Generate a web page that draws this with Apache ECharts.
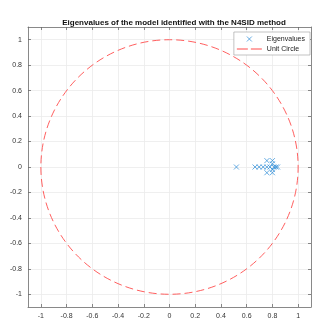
<!DOCTYPE html>
<html>
<head>
<meta charset="utf-8">
<script src="https://cdn.jsdelivr.net/npm/echarts@6/dist/echarts.min.js"></script>
<style>
  html, body { margin: 0; padding: 0; background: #fff; }
  #chart { width: 323px; height: 324px; }
</style>
</head>
<body>
<div id="chart"></div>
<script>
var eigReal = [0.52, 0.665, 0.697, 0.728, 0.757, 0.782, 0.812, 0.828, 0.840, 0.757, 0.757, 0.800, 0.800, 0.800, 0.800];
var eigImag = [0, 0, 0, 0, 0, 0, 0, 0, 0, 0.05, -0.045, 0.05, -0.045, 0.025, -0.02];
// unit circle: centre x, centre y, radius
var circleDef = [[0, 0, 1]];
var tickVals = [-1, -0.8, -0.6, -0.4, -0.2, 0, 0.2, 0.4, 0.6, 0.8, 1];
var seriesNames = ['Eigenvalues', 'Unit Circle'];

var font = 'Liberation Sans, Arial, sans-serif';
var blue = '#2b8bd6';
var red = '#ff4d4d';
var chart = echarts.init(document.getElementById('chart'));

function fmt(v) {
    return String(Math.round(v * 10) / 10);
}

function axisBase(pos, showLabel) {
    return {
        type: 'value',
        position: pos,
        min: -1.1,
        max: 1.1,
        axisLine: { show: true, onZero: false, lineStyle: { color: '#6b6b6b', width: 0.8 } },
        axisTick: { show: true, inside: true, length: 3, customValues: tickVals, lineStyle: { color: '#6b6b6b', width: 0.8 } },
        axisLabel: { show: showLabel, customValues: tickVals, formatter: fmt, fontSize: 7, color: '#333', fontFamily: font },
        splitLine: { show: showLabel, lineStyle: { color: '#ebebeb', width: 0.8 } }
    };
}

var points = eigReal.map(function (r, i) { return [r, eigImag[i]]; });

var xBottom = axisBase('bottom', true);
xBottom.axisLabel.margin = 6;
var xTop = axisBase('top', false);
var yLeft = axisBase('left', true);
yLeft.axisLabel.margin = 6;
yLeft.name = 'Imaginary';
yLeft.nameLocation = 'middle';
yLeft.nameGap = 22;
yLeft.nameTextStyle = { fontSize: 7.5, color: '#333', fontFamily: font };
var yRight = axisBase('right', false);

var option = {
    backgroundColor: '#fff',
    animation: false,
    title: {
        text: 'Eigenvalues of the model identified with the N4SID method',
        left: 169,
        textAlign: 'center',
        top: 14,
        textStyle: { fontSize: 8, fontWeight: 'bold', color: '#111', fontFamily: font }
    },
    legend: {
        orient: 'vertical',
        right: 13,
        top: 32,
        padding: [2, 5, 2, 3],
        itemWidth: 25,
        itemHeight: 5,
        itemGap: 1,
        borderColor: '#9a9a9a',
        borderWidth: 0.6,
        backgroundColor: '#fff',
        textStyle: { fontSize: 7, color: '#222', fontFamily: font, lineHeight: 8 },
        data: [
            { name: seriesNames[0], itemStyle: { color: 'none', borderColor: blue, borderWidth: 0.9 } },
            { name: seriesNames[1], icon: 'path://M0,0h11v1.2h-11z M14,0h11v1.2h-11z' }
        ]
    },
    grid: { left: 28, right: 12, top: 27, bottom: 17, outerBoundsMode: 'none', containLabel: false },
    xAxis: [xBottom, xTop],
    yAxis: [yLeft, yRight],
    series: [
        {
            name: seriesNames[1],
            type: 'custom',
            xAxisIndex: 0,
            yAxisIndex: 0,
            itemStyle: { color: red },
            data: circleDef,
            renderItem: function (params, api) {
                var c = api.coord([api.value(0), api.value(1)]);
                var s = api.size([api.value(2), api.value(2)]);
                var rx = s[0], ry = s[1];
                var d = 'M' + (c[0] - rx) + ',' + c[1] +
                    ' A' + rx + ',' + ry + ' 0 1 0 ' + (c[0] + rx) + ',' + c[1] +
                    ' A' + rx + ',' + ry + ' 0 1 0 ' + (c[0] - rx) + ',' + c[1] + ' Z';
                return {
                    type: 'path',
                    shape: { pathData: d },
                    style: { fill: 'none', stroke: red, lineWidth: 0.9, lineDash: [8, 4] },
                    silent: true
                };
            },
            z: 2
        },
        {
            name: seriesNames[0],
            type: 'scatter',
            xAxisIndex: 0,
            yAxisIndex: 0,
            symbol: 'path://M0,0L10,10M10,0L0,10',
            symbolSize: 5,
            itemStyle: { color: 'none', borderColor: blue, borderWidth: 0.9 },
            data: points,
            z: 3
        }
    ]
};

chart.setOption(option);
</script>
</body>
</html>
